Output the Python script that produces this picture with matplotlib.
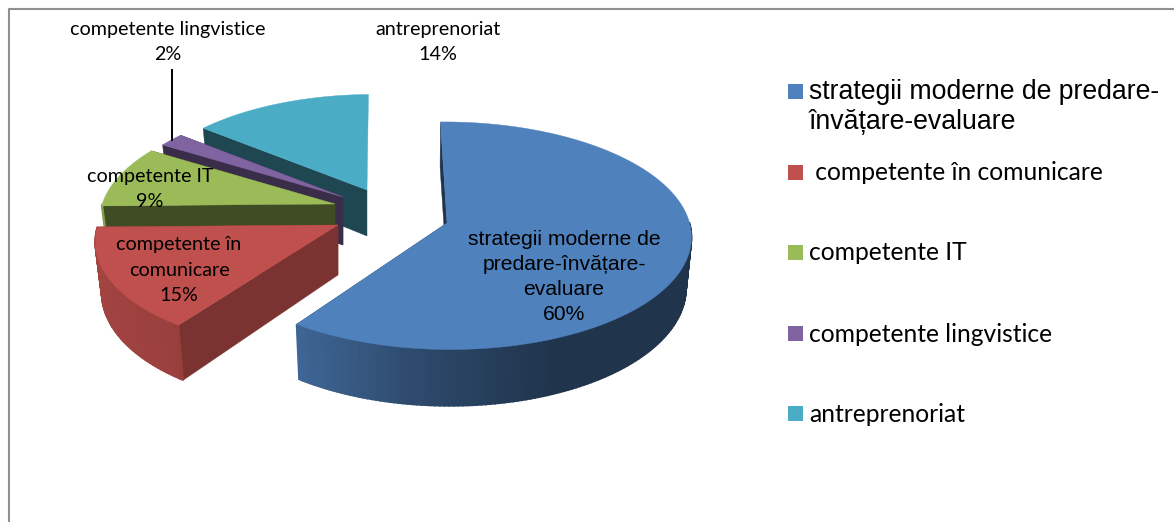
#!/usr/bin/env python
# -*- coding: utf-8 -*-
import numpy as np
import matplotlib
matplotlib.use("Agg")
import matplotlib.pyplot as plt
from matplotlib.patches import Rectangle

categories = ["strategii moderne de predare-\nînvățare-evaluare",
              " competente în comunicare",
              "competente IT",
              "competente lingvistice",
              "antreprenoriat"]
percent = [60, 15, 9, 2, 14]
slice_labels = ["strategii moderne de\npredare-învățare-\nevaluare\n60%",
                "competente în\ncomunicare\n15%",
                "competente IT\n9%",
                "competente lingvistice\n2%",
                "antreprenoriat\n14%"]

# look of each slice
colors = ["#4F81BD", "#C0504D", "#9BBB59", "#8064A2", "#4BACC6"]
wall_shade = [0.40, 0.64, 0.41, 0.45, 0.41]
apex = [(447, 223), (338, 225), (335, 204), (343, 197), (367, 190)]
scale = [0.99, 0.98, 0.95, 0.93, 0.93]
depths = [50, 50, 50, 48, 46]

# perspective of the pie plane
RX = 245.0
AY = 113.5
K = 0.113
XV = 420.0
SHRINK = 0.0004
ROT = -1.0


def project(ax0, ay0, s, ang, depth=0.0):
    # ang in degrees, clockwise from the top
    r = np.radians(ang)
    u = s * np.sin(r)
    v = -s * np.cos(r)
    d = 1 - K * v
    x = XV + (ax0 - XV + RX * u) / d
    x = XV + (x - XV) * (1 - SHRINK * depth)
    return (x, ay0 + (AY * v + depth) / d)


def shade(col, f):
    rgb = np.array(matplotlib.colors.to_rgb(col))
    return tuple(rgb * f)


def draw_slice(ax, i, a0, a1):
    cx, cy = apex[i]
    s = scale[i]
    dep = depths[i]
    ang = np.linspace(a0, a1, max(int(a1 - a0) + 2, 4))
    col = colors[i]
    wall = shade(col, wall_shade[i])

    # flat walls from the centre to the rim
    # the closing wall of the last slice faces away
    walls = (a0,) if i == len(percent) - 1 else (a0, a1)
    for a in walls:
        x0, y0 = project(cx, cy, s, a)
        x1, y1 = project(cx, cy, s, a, dep)
        ax.fill([cx, x0, x1, cx], [cy, y0, y1, cy + dep], color=wall, lw=0.3)

    # outer wall, only the front of it shows, darker towards the right
    for a, b in zip(ang[:-1], ang[1:]):
        m = np.radians((a + b) / 2)
        if np.cos(m) > 0:
            continue
        xa, ya = project(cx, cy, s, a)
        xb, yb = project(cx, cy, s, b)
        xc, yc = project(cx, cy, s, b, dep)
        xd, yd = project(cx, cy, s, a, dep)
        f = np.interp(np.sin(m), [-1, -0.6, -0.1, 0.4, 1],
                      [0.85, 0.80, 0.56, 0.40, 0.40])
        ax.fill([xa, xb, xc, xd], [ya, yb, yc, yd], color=shade(col, f), lw=1.2)

    # top face
    xs, ys = project(cx, cy, s, ang)
    ax.fill(np.r_[cx, xs], np.r_[cy, ys], color=col, lw=0.3)


def main():
    fig = plt.figure(figsize=(11.74, 5.22), dpi=100)
    ax = fig.add_axes([0, 0, 1, 1])
    ax.set_xlim(0, 1174)
    ax.set_ylim(522, 0)
    ax.axis("off")

    # frame of the chart, cut by the picture on two sides
    ax.plot([9, 9, 1174], [522, 8.5, 8.5], color="#8F8F8F", lw=1.5)

    edges = np.cumsum([0] + percent) * 3.6 + ROT
    for i in [4, 3, 2, 1, 0]:
        draw_slice(ax, i, edges[i], edges[i + 1])

    ax.plot([172, 172], [70, 140], color="black", lw=1.4)

    lato = dict(family="Lato", color="black", ha="center", va="center",
                linespacing=1.6)
    ax.text(564, 277, slice_labels[0], family="Liberation Sans", fontsize=15.2,
            ha="center", va="center", linespacing=1.38)
    ax.text(179, 270, slice_labels[1], fontsize=14.2, **lato)
    ax.text(150, 189, slice_labels[2], fontsize=14.2, **lato)
    ax.text(168, 42, slice_labels[3], fontsize=14.2, **lato)
    ax.text(438, 42, slice_labels[4], fontsize=14.2, **lato)

    # legend
    key_y = [84, 165, 245, 326, 406]
    for i, y in enumerate(key_y):
        ax.add_patch(Rectangle((788, y), 15, 15, color=colors[i], lw=0))
    ax.text(809, 107, categories[0], family="Liberation Sans", fontsize=19.2,
            va="center", linespacing=1.24)
    for i in [1, 2, 3, 4]:
        ax.text(809, key_y[i] + 8, categories[i], family="Lato", fontsize=17.7,
                va="center")

    fig.savefig("out.png", dpi=100)


if __name__ == "__main__":
    main()
